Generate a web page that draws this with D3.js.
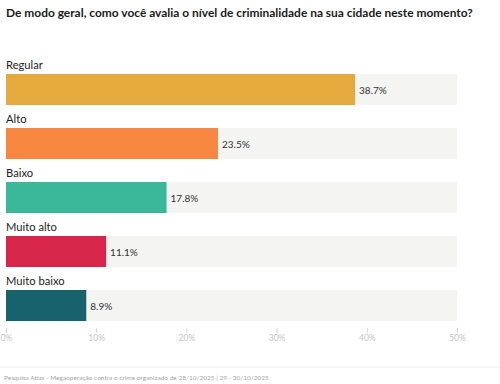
<!DOCTYPE html>
<html><head><meta charset="utf-8">
<script src="https://cdn.jsdelivr.net/npm/d3@7"></script>
<style>
html,body{margin:0;padding:0;background:#fff;}
svg{display:block;font-family:Lato, "Open Sans", sans-serif;}
</style></head>
<body>
<script>
const categories = ["Regular", "Alto", "Baixo", "Muito alto", "Muito baixo"];
const values = [38.7, 23.5, 17.8, 11.1, 8.9];
const colors = ["#e4aa3e", "#f78641", "#3bb89a", "#d8254a", "#17626d"];
const ticks = [0, 10, 20, 30, 40, 50];
const title = "De modo geral, como você avalia o nível de criminalidade na sua cidade neste momento?";
const footer = "Pesquisa Atlas - Megaoperação contra o crime organizado de 28/10/2025 | 29 - 30/10/2025";

const W = 500, H = 384;
const svg = d3.select("body").append("svg").attr("width", W).attr("height", H);

const x = d3.scaleLinear().domain([0, 50]).range([6, 457]);
const step = 54, bh = 31;
const y = d3.scaleBand().domain(categories)
  .range([74, 74 + step * (categories.length - 1) + bh])
  .paddingInner((step - bh) / step).paddingOuter(0);

const t = svg.append("text").attr("x", 6).attr("y", 17)
  .attr("font-size", 13).attr("font-weight", 700).attr("fill", "#1a1a1a").text(title);
const tw = t.node().getComputedTextLength();
t.attr("font-size", 13 * 467 / tw);

const g = svg.append("g");
categories.forEach((c, i) => {
  const top = y(c);
  g.append("rect").attr("x", x(0)).attr("y", top).attr("width", x(50) - x(0)).attr("height", y.bandwidth()).attr("fill", "#f4f4f2");
  g.append("rect").attr("x", x(0)).attr("y", top).attr("width", x(values[i]) - x(0)).attr("height", y.bandwidth()).attr("fill", colors[i]);
  g.append("text").attr("x", 6).attr("y", top - 5).attr("font-size", 11.2).attr("fill", "#222").text(c);
  g.append("text").attr("x", x(values[i]) + 4).attr("y", top + y.bandwidth() / 2 + 4).attr("font-size", 10).attr("fill", "#333").text(values[i].toFixed(1) + "%");
});

const axis = d3.axisBottom(x).tickValues(ticks).tickFormat(d => d + "%").tickSize(5).tickPadding(2);
const ag = svg.append("g").attr("transform", "translate(0,328)").call(axis);
ag.select(".domain").remove();
ag.selectAll(".tick line").attr("stroke", "#d6d6d6");
ag.selectAll(".tick text").attr("fill", "#c4c4c4").attr("font-size", 8.5).attr("font-family", "Lato, sans-serif");

svg.append("line").attr("x1", 0).attr("x2", 500).attr("y1", 367).attr("y2", 367).attr("stroke", "#eeeeee");
svg.append("text").attr("x", 4).attr("y", 380).attr("font-size", 6.5).attr("fill", "#a6a6a6").text(footer);
</script>
</body></html>
